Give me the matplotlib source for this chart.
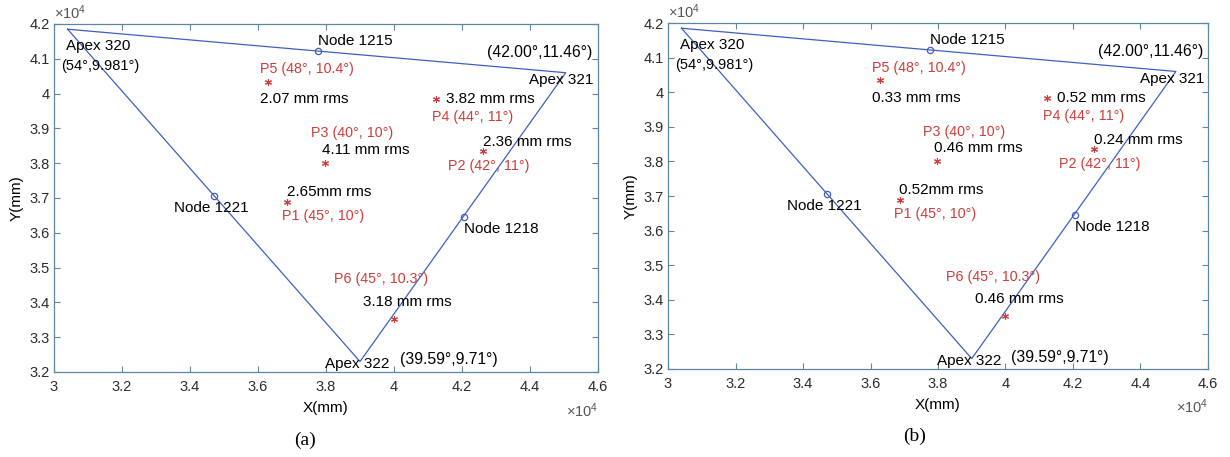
import matplotlib
matplotlib.use("Agg")
import matplotlib.pyplot as plt

plt.rcParams['font.family'] = ['Liberation Sans', 'DejaVu Sans']

# triangle apexes (mm)
apex_names = ['Apex 320', 'Apex 321', 'Apex 322']
apex_x = [30400, 45050, 39000]
apex_y = [41850, 40600, 32300]
apex_angles = ['(54°,9.981°)', '(42.00°,11.46°)', '(39.59°,9.71°)']

# mid-edge nodes
node_names = ['Node 1215', 'Node 1218', 'Node 1221']
node_x = [37755, 42050, 34715]
node_y = [41224, 36445, 37066]

# measurement points
pt_names = ['P1 (45°, 10°)', 'P2 (42°, 11°)', 'P3 (40°, 10°)',
            'P4 (44°, 11°)', 'P5 (48°, 10.4°)', 'P6 (45°, 10.3°)']
pt_x = [36860, 42610, 37970, 41230, 36285, 39990]
pt_y = [36880, 38360, 38000, 39836, 40340, 33520]
rms_a = ['2.65mm rms', '2.36 mm rms', '4.11 mm rms', '3.82 mm rms', '2.07 mm rms', '3.18 mm rms']
rms_b = ['0.52mm rms', '0.24 mm rms', '0.46 mm rms', '0.52 mm rms', '0.33 mm rms', '0.46 mm rms']

# label anchors (left, center)
apex_name_pos = [(30344, 41368), (43980, 40391), (37970, 32230)]
apex_ang_pos = [(30206, 40793), (42744, 41187), (40176, 32345)]
node_name_pos = [(37755, 41520), (42050, 36109), (33538, 36704)]
pt_name_pos = [(36697, 36483), (41597, 37928), (37550, 38859),
               (41126, 39319), (36059, 40707), (38244, 34664)]
rms_pos = [(36844, 37164), (42627, 38618), (37892, 38379),
           (41529, 39836), (36059, 39836), (39097, 34011)]

xticks = [30000, 32000, 34000, 36000, 38000, 40000, 42000, 44000, 46000]
yticks = [32000, 33000, 34000, 35000, 36000, 37000, 38000, 39000, 40000, 41000, 42000]

line_c = '#3f5fbf'
red_c = '#d03c3c'
spine_c = '#5d86a3'
asterisk = (6, 2, 0)

fig = plt.figure(figsize=(12.3, 4.57), dpi=100)
ax_a = fig.add_axes([0.0439, 0.186, 0.4423, 0.7615])
ax_b = fig.add_axes([0.5431, 0.1926, 0.439, 0.757])

for ax, rms, cap, capx in [(ax_a, rms_a, '(a)', 0.461), (ax_b, rms_b, '(b)', 0.457)]:
    tx = apex_x + [apex_x[0]]
    ty = apex_y + [apex_y[0]]
    ax.plot(tx, ty, color=line_c, lw=0.9)
    ax.plot(node_x, node_y, 'o', ms=4.5, mfc='none', mec=line_c, mew=0.9)
    ax.plot(pt_x, pt_y, ls='none', marker=asterisk, ms=5, color=red_c, mew=0.8)

    for name, (x, y) in zip(apex_names, apex_name_pos):
        ax.text(x, y, name, fontsize=11, ha='left', va='center')
    for i, (ang, (x, y)) in enumerate(zip(apex_angles, apex_ang_pos)):
        ax.text(x, y, ang, fontsize=10.5 if i == 0 else 11.3, ha='left', va='center')
    for name, (x, y) in zip(node_names, node_name_pos):
        ax.text(x, y, name, fontsize=11, ha='left', va='center')
    for name, (x, y) in zip(pt_names, pt_name_pos):
        ax.text(x, y, name, fontsize=10.3, color=red_c, ha='left', va='center')
    for r, (x, y) in zip(rms, rms_pos):
        ax.text(x, y, r, fontsize=11, ha='left', va='center')

    ax.set_xlim(30000, 46000)
    ax.set_ylim(32000, 42000)
    ax.set_xticks(xticks)
    ax.set_yticks(yticks)
    ax.set_xticklabels(['%g' % (v / 1e4) for v in xticks], fontsize=10.5)
    ax.set_yticklabels(['%g' % (v / 1e4) for v in yticks], fontsize=10.5)
    ax.tick_params(direction='in', length=4, width=0.8, color=spine_c,
                   top=True, right=True, labelcolor='#2b2b2b')
    ax.tick_params(axis='x', pad=6)
    ax.tick_params(axis='y', pad=3)
    for s in ax.spines.values():
        s.set_color(spine_c)
        s.set_linewidth(0.9)
    ax.set_xlabel('X(mm)', fontsize=11, labelpad=5)
    ax.set_ylabel('Y(mm)', fontsize=11, labelpad=4)
    ax.text(0.0, 1.005, r'$\mathregular{\times10^{4}}$', transform=ax.transAxes,
            fontsize=10.5, color='#555555', ha='left', va='bottom')
    ax.text(1.0, -0.11, r'$\mathregular{\times10^{4}}$', transform=ax.transAxes,
            fontsize=10.5, color='#555555', ha='right', va='center')
    ax.text(capx, -0.195, cap, transform=ax.transAxes, fontsize=14,
            family='Liberation Serif', ha='center', va='center')

fig.savefig('out.png', dpi=100)
